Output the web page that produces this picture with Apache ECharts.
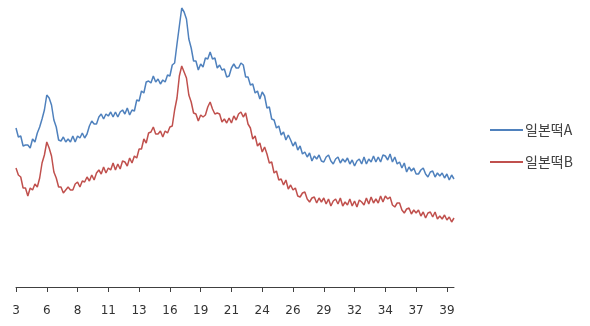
<!DOCTYPE html>
<html>
<head>
<meta charset="utf-8">
<script src="https://cdn.jsdelivr.net/npm/echarts@6/dist/echarts.min.js"></script>
<style>
  html, body { margin: 0; padding: 0; background: #fff; }
  #chart { width: 590px; height: 326px; }
</style>
</head>
<body>
<div id="chart"></div>
<script>
// 2θ grid: 3.0° to 40.0° in 0.2° steps
const twoTheta = [];
for (let i = 0; i <= 185; i++) twoTheta.push((3 + i * 0.2).toFixed(1));

const seriesNames = ['일본떡A', '일본떡B'];

// Diffraction intensity (arbitrary units), sample A
const intensityA = [
  159,150,151,141,142,142,139,148,145,154,
  160,168,177,192,189,182,167,160,147,146,
  150,145,148,145,151,145,151,149,154,149,
  153,161,166,163,163,170,173,168,173,171,
  175,170,175,170,175,177,173,179,172,177,
  176,187,186,196,194,205,206,204,211,205,
  208,203,207,205,212,211,222,224,243,261,
  279,275,268,248,239,226,226,217,223,220,
  229,228,235,228,229,219,222,217,218,210,
  211,219,223,219,219,224,222,210,210,202,
  203,194,196,188,195,191,179,180,168,167,
  159,161,152,155,147,152,147,141,145,137,
  141,133,135,130,134,126,131,128,132,126,
  125,130,132,126,123,128,130,124,128,125,
  129,123,127,121,126,128,123,130,123,128,
  125,131,125,130,125,132,131,127,133,125,
  130,123,125,119,124,115,120,116,119,113,
  113,117,119,113,110,115,116,110,114,111,
  114,109,113,107,112,108
];

// Diffraction intensity (arbitrary units), sample B
const intensityB = [
  119,112,110,99,99,91,99,97,103,100,
  109,124,132,145,139,131,115,109,100,100,
  94,97,100,97,97,103,105,100,106,105,
  110,106,112,107,114,117,113,120,114,119,
  117,124,117,123,118,126,125,121,129,124,
  131,129,138,138,148,144,154,155,160,153,
  153,156,150,156,154,160,161,177,189,211,
  221,215,209,192,185,174,173,166,172,170,
  172,180,185,178,173,174,173,165,168,164,
  169,164,171,167,173,175,170,174,163,159,
  148,151,141,144,135,140,133,124,125,114,
  116,107,108,102,107,98,102,97,99,91,
  90,94,95,88,85,89,90,84,89,85,
  89,83,88,81,86,88,83,89,81,85,
  82,88,81,86,80,87,85,82,89,83,
  90,84,88,84,91,85,91,88,90,82,
  80,84,84,77,74,78,79,73,77,74,
  77,71,75,69,74,75,70,75,68,71,
  68,72,67,70,65,69
];

const colors = ['#4f81bd', '#c0504d'];

const chart = echarts.init(document.getElementById('chart'), null, { renderer: 'canvas' });
chart.setOption({
  animation: false,
  backgroundColor: '#ffffff',
  color: colors,
  grid: { left: 16, right: 136, top: 7, bottom: 39, containLabel: false },
  legend: {
    orient: 'vertical',
    left: 490,
    top: 123,
    padding: 0,
    icon: 'rect',
    itemWidth: 33,
    itemHeight: 2,
    itemGap: 18,
    data: seriesNames,
    textStyle: { fontFamily: '"Noto Sans CJK KR", sans-serif', fontSize: 14, color: '#404040', padding: [0, 0, 0, -3] }
  },
  xAxis: {
    type: 'category',
    data: twoTheta,
    boundaryGap: false,
    axisLine: { lineStyle: { color: '#404040', width: 1 } },
    axisTick: { interval: 12, length: 5, lineStyle: { color: '#404040' } },
    axisLabel: {
      interval: 12,
      margin: 18,
      fontFamily: '"DejaVu Sans", sans-serif',
      fontSize: 12,
      color: '#333',
      formatter: v => String(Math.round(parseFloat(v)))
    },
    splitLine: { show: false }
  },
  yAxis: {
    type: 'value',
    min: 0,
    max: 280,
    show: false
  },
  series: [
    { name: seriesNames[0], type: 'line', data: intensityA, showSymbol: false, lineStyle: { width: 1.5 } },
    { name: seriesNames[1], type: 'line', data: intensityB, showSymbol: false, lineStyle: { width: 1.5 } }
  ]
});
</script>
</body>
</html>
